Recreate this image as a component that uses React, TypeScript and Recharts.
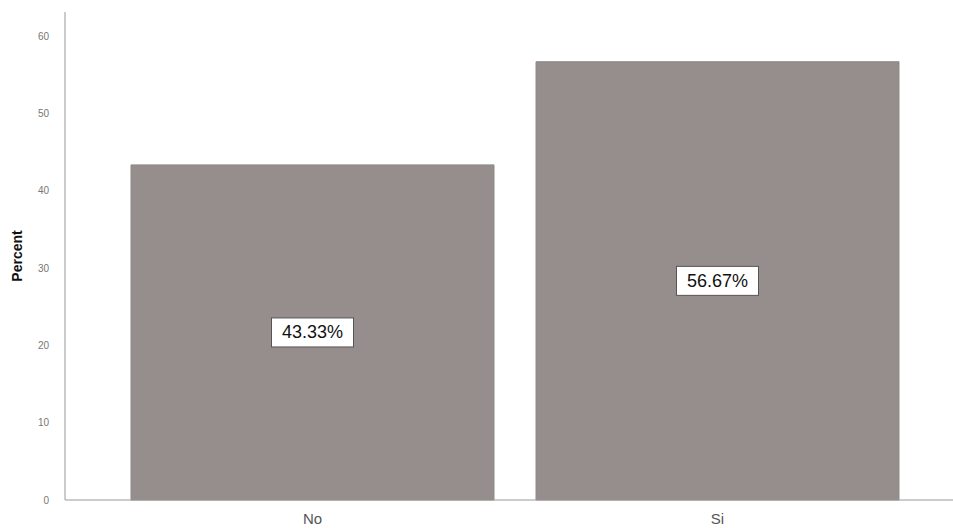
import React from "react";
import { BarChart, Bar, XAxis, YAxis, LabelList } from "recharts";

const categories = ["No", "Si"];
const percents = [43.33, 56.67];
const yTicks = [0, 10, 20, 30, 40, 50, 60];

const data = categories.map((c, i) => ({ name: c, percent: percents[i] }));

function BoxLabel(props: any) {
  const { x, y, width, height, value } = props;
  const cx = x + width / 2;
  const cy = y + height / 2;
  const w = 82;
  const h = 29;
  return (
    <g>
      <rect x={cx - w / 2} y={cy - h / 2} width={w} height={h} fill="#fff" stroke="#555" strokeWidth={1} />
      <text x={cx} y={cy + 1} textAnchor="middle" dominantBaseline="middle" fontSize={18} fontFamily="Liberation Sans, Arial, sans-serif" fill="#111">
        {value.toFixed(2)}%
      </text>
    </g>
  );
}

export default function App() {
  return (
    <div style={{ position: "absolute", left: 0, top: 0, background: "#fff" }}>
      <BarChart
        width={953}
        height={528}
        data={data}
        margin={{ top: 12, right: 0, bottom: 0, left: 20 }}
        barCategoryGap={21}
      >
        <XAxis
          dataKey="name"
          height={28}
          padding={{ left: 45, right: 33 }}
          axisLine={{ stroke: "#999" }}
          tickLine={false}
          tick={{ fontSize: 15, fill: "#555", fontFamily: "Liberation Sans, Arial, sans-serif" }}
          tickMargin={7}
        />
        <YAxis
          domain={[0, 63.1]}
          ticks={yTicks}
          width={45}
          axisLine={{ stroke: "#999" }}
          tickLine={false}
          tickMargin={10}
          tick={{ fontSize: 10, fill: "#777", fontFamily: "Liberation Sans, Arial, sans-serif" }}
          label={{
            value: "Percent",
            angle: -90,
            position: "insideLeft",
            offset: -3,
            style: { fontSize: 14, fontWeight: "bold", fill: "#111", fontFamily: "Liberation Sans, Arial, sans-serif", textAnchor: "middle" },
          }}
        />
        <Bar dataKey="percent" fill="#968e8c" stroke="#8c8888" isAnimationActive={false}>
          <LabelList dataKey="percent" content={<BoxLabel />} />
        </Bar>
      </BarChart>
    </div>
  );
}
